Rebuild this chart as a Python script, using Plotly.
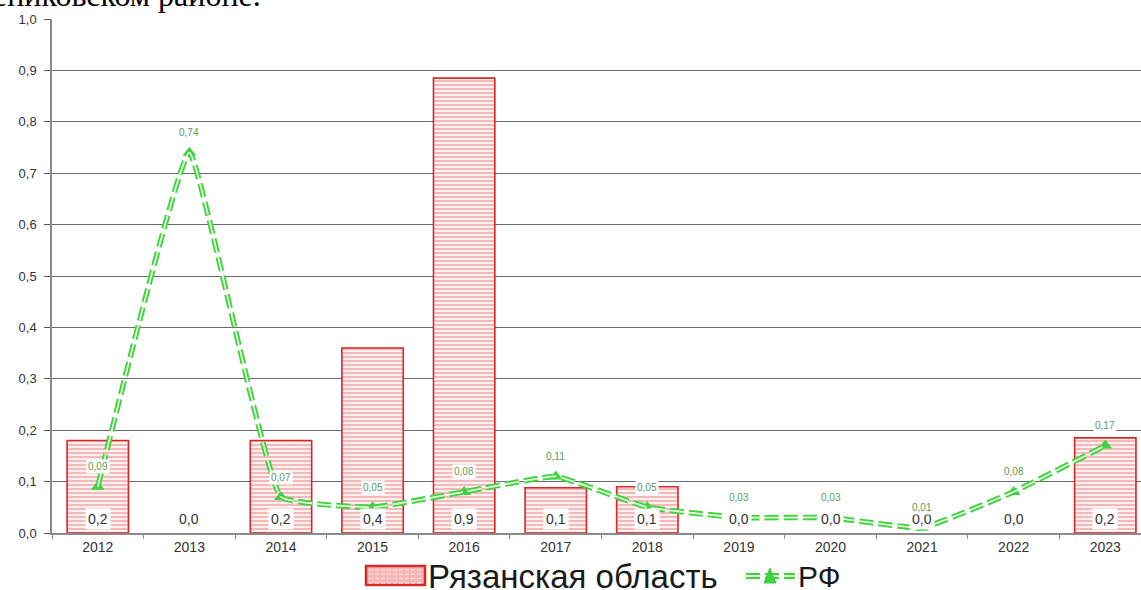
import plotly.graph_objects as go

years = ["2012", "2013", "2014", "2015", "2016", "2017", "2018", "2019", "2020", "2021", "2022", "2023"]
ryazan = [0.18, 0.0, 0.18, 0.36, 0.885, 0.088, 0.09, 0.0, 0.0, 0.0, 0.0, 0.185]
rf = [0.09, 0.74, 0.07, 0.05, 0.08, 0.11, 0.05, 0.03, 0.03, 0.01, 0.08, 0.17]
series_names = ["Рязанская область", "РФ"]
title_fragment = "ениковском районе."

GREEN = "#3ed23e"
RED = "#d62828"

def fmt(v, d):
    return f"{v:.{d}f}".replace(".", ",")

fig = go.Figure()

fig.add_trace(go.Bar(
    x=years, y=[v if v > 0 else None for v in ryazan], name=series_names[0],
    width=0.67, showlegend=False,
    marker=dict(
        color="#fff0f0",
        line=dict(color=RED, width=1.6),
        pattern=dict(shape="-", fgcolor="rgba(215,70,70,0.85)", bgcolor="#fff0f0",
                     size=4, solidity=0.38),
    ),
))

fig.add_trace(go.Scatter(
    x=years, y=rf, name=series_names[1], mode="lines+markers", showlegend=False,
    line=dict(color=GREEN, width=5.5, dash="14px,5px", shape="spline", smoothing=0.3),
    marker=dict(symbol="triangle-up", size=12, color=GREEN),
))
fig.add_trace(go.Scatter(
    x=years, y=rf, showlegend=False, mode="lines", hoverinfo="skip",
    line=dict(color="#e4ffdc", width=1.8, dash="14px,5px", shape="spline", smoothing=0.3),
))

annotations = []
for i, v in enumerate(ryazan):
    annotations.append(dict(
        x=i, y=0.027, xref="x", yref="y", text=fmt(v, 1), showarrow=False,
        font=dict(family="Liberation Sans, Arial", size=14, color="#333333"),
        bgcolor="white", borderpad=2,
    ))
for i, v in enumerate(rf):
    annotations.append(dict(
        x=i, y=v, xref="x", yref="y", text=fmt(v, 2), showarrow=False, yshift=20,
        font=dict(family="Liberation Sans, Arial", size=10, color="#5a9a5a"),
        bgcolor="white", borderpad=1,
    ))
annotations.append(dict(
    x=-0.056, y=1.0, xref="paper", yref="paper", xanchor="left", yanchor="bottom",
    yshift=4, text=title_fragment, showarrow=False,
    font=dict(family="Liberation Serif, Times New Roman", size=32, color="black"),
))

# custom legend (pixel-placed, paper coords)
W, H, L, T, B = 1141, 590, 52, 19, 57
pw, ph = W - L, H - T - B
def px(x):
    return (x - L) / pw
def py(y):
    return (H - B - y) / ph

shapes = [
    dict(type="rect", xref="paper", yref="paper", x0=px(366), x1=px(425), y0=py(585), y1=py(566),
         fillcolor="#f7b5b5", line=dict(color=RED, width=2.5)),
    dict(type="line", xref="paper", yref="paper", x0=px(746), x1=px(795), y0=py(576), y1=py(576),
         line=dict(color=GREEN, width=6, dash="14px,5px")),
    dict(type="line", xref="paper", yref="paper", x0=px(746), x1=px(795), y0=py(576), y1=py(576),
         line=dict(color="#e4ffdc", width=2, dash="14px,5px")),
    dict(type="path", xref="paper", yref="paper",
         path=f"M {px(764)} {py(583)} L {px(776)} {py(583)} L {px(770)} {py(568)} Z",
         fillcolor=GREEN, line=dict(color=GREEN, width=1)),
]
for i in range(4):
    yy = 570 + i * 4.3
    shapes.append(dict(type="line", xref="paper", yref="paper", x0=px(369), x1=px(422),
                       y0=py(yy), y1=py(yy), line=dict(color="#fff0f0", width=1, dash="4px,2px")))
annotations.append(dict(x=px(426), y=py(576), xref="paper", yref="paper", xanchor="left",
                        yanchor="middle", text=series_names[0], showarrow=False,
                        font=dict(family="Liberation Sans, Arial", size=33, color="#1a1a1a")))
annotations.append(dict(x=px(796), y=py(576), xref="paper", yref="paper", xanchor="left",
                        yanchor="middle", text=series_names[1], showarrow=False,
                        font=dict(family="Liberation Sans, Arial", size=30, color="#1a1a1a")))

fig.update_layout(
    width=W, height=H,
    margin=dict(l=L, r=0, t=T, b=B),
    paper_bgcolor="white", plot_bgcolor="white",
    separators=", ",
    showlegend=False,
    annotations=annotations,
    shapes=shapes,
    xaxis=dict(
        type="category", range=[-0.5, 11.39], automargin=False,
        showline=True, linecolor="#8a8a8a", linewidth=1.5,
        ticks="outside", tickson="boundaries", ticklen=4, tickcolor="#8a8a8a",
        tickfont=dict(family="Liberation Sans, Arial", size=14, color="#333333"),
        showgrid=False, zeroline=False,
    ),
    yaxis=dict(
        range=[0, 1.0], dtick=0.1, tickformat=".1f", automargin=False,
        showline=True, linecolor="#8a8a8a", linewidth=1.5,
        ticks="outside", ticklen=6, tickcolor="#555555", ticklabelstandoff=5,
        tickfont=dict(family="Liberation Sans, Arial", size=13, color="#333333"),
        showgrid=True, gridcolor="#6a6a6a", gridwidth=1.3, zeroline=False,
    ),
)

fig.write_html("out.html", config={"displayModeBar": False},
               post_script="document.body.style.margin='0';document.body.style.overflow='hidden';")
